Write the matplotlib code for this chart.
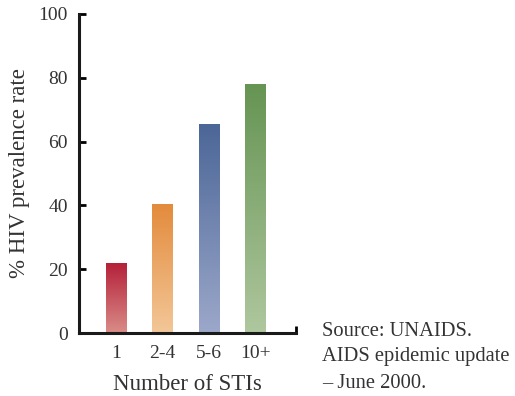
import numpy as np
import matplotlib.pyplot as plt
from matplotlib.colors import LinearSegmentedColormap

categories = ['1', '2-4', '5-6', '10+']
values = [22, 40.3, 65.5, 78.2]
top_colors = ['#b41f38', '#e38b3c', '#4b6697', '#659453']
bottom_colors = ['#da8c88', '#f3c798', '#9ca8ca', '#afc79e']

plt.rcParams['font.family'] = ['Liberation Serif', 'DejaVu Serif']

fig = plt.figure(figsize=(5.15, 3.96), dpi=100)
ax = fig.add_axes([79 / 515, 63 / 396, 217 / 515, 319 / 396])

x = np.arange(len(categories))
width = 0.45
bars = ax.bar(x, values, width=width, color='none', edgecolor='none', zorder=1)

grad = np.linspace(0, 1, 256).reshape(-1, 1)
for b, c0, c1 in zip(bars, bottom_colors, top_colors):
    cmap = LinearSegmentedColormap.from_list('g', [c0, c1])
    x0, h = b.get_x(), b.get_height()
    im = ax.imshow(grad, cmap=cmap, origin='lower', aspect='auto',
                   extent=[x0, x0 + b.get_width(), 0, h], zorder=2)
    im.set_clip_path(b)

ax.set_xlim(-0.8, 3.87)
ax.set_ylim(0, 100)
ax.set_yticks([0, 20, 40, 60, 80, 100])
ax.set_xticks(x)
ax.set_xticklabels(categories)

for s in ['top', 'right']:
    ax.spines[s].set_visible(False)
for s in ['left', 'bottom']:
    ax.spines[s].set_linewidth(2.2)
    ax.spines[s].set_color('#1a1a1a')

ax.tick_params(axis='y', direction='in', length=5, width=2, labelsize=14,
               pad=8, labelcolor='#333333')
ax.tick_params(axis='x', length=0, labelsize=14, pad=9, labelcolor='#333333')
ax.set_xticks([3.87], minor=True)
ax.tick_params(axis='x', which='minor', direction='in', length=5, width=2)

ax.set_xlabel('Number of STIs', fontsize=16.5, labelpad=8, color='#333333')
ax.set_ylabel('% HIV prevalence rate', fontsize=16.5, labelpad=6, color='#333333')

fig.text(322 / 515, 1 - 357 / 396, 'Source: UNAIDS.\nAIDS epidemic update\n\u2013 June 2000.',
         fontsize=14.8, va='center', ha='left', linespacing=1.5, color='#333333')

fig.savefig('out.png', dpi=100)
